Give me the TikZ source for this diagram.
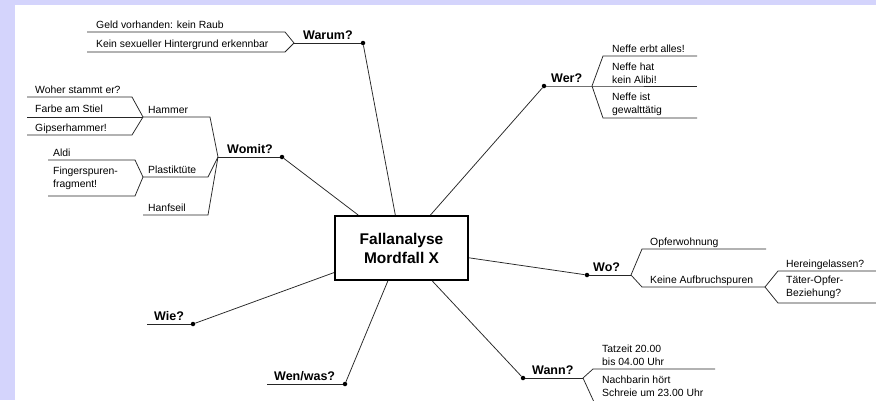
\documentclass[tikz,border=0pt]{standalone}
\usepackage{fontspec}
\setmainfont{Liberation Sans}
\definecolor{rahmen}{RGB}{212,212,252}

\tikzset{
  ast/.style={line width=0.75pt, color=black!85},
  punkt/.style={circle, fill=black, inner sep=0pt, minimum size=4.5pt},
  frage/.style={font=\fontsize{12.5}{15}\selectfont\bfseries, inner sep=0pt, anchor=base west},
  notiz/.style={font=\fontsize{10.4}{13}\selectfont, inner sep=0pt, align=left, anchor=base west},
  notiz2/.style={notiz, anchor=west},
}

\begin{document}
\begin{tikzpicture}[x=1pt,y=-1pt]
	\useasboundingbox (0,0) rectangle (876,400);
	\fill[rahmen] (0,0) rectangle (876,400);
	\fill[white] (15,5) rectangle (876,400);
	\node[draw, line width=2pt, minimum width=133pt, minimum height=64pt, align=center,
	  font=\fontsize{15.5}{19}\selectfont\bfseries] (fall) at (401.5,248) {Fallanalyse\\Mordfall X};
	% Warum?
	\node[punkt] (warum) at (363,43) {};
	\coordinate (warumJ) at (294,43);
	\draw[ast] (warum) -- (fall);
	\draw[ast] (warumJ) -- (warum);
	\node[frage] (warumL) at (303,39) {Warum?};
	\draw[ast] (87,32) -- (285,32) -- (warumJ) -- (285,52) -- (87,52);
	\node[notiz] (geld) at (96,28.5) {Geld vorhanden: kein Raub};
	\node[notiz] (motiv) at (96,47.5) {Kein sexueller Hintergrund erkennbar};
	% Wer?
	\node[punkt] (wer) at (544,86) {};
	\coordinate (werJ) at (592,86);
	\draw[ast] (wer) -- (fall);
	\draw[ast] (wer) -- (werJ) -- (697,86);
	\node[frage] (werL) at (551,82) {Wer?};
	\draw[ast] (697,56) -- (603,56) -- (werJ) -- (603,118) -- (697,118);
	\node[notiz] (erbt) at (612,52) {Neffe erbt alles!};
	\node[notiz2] (alibi) at (612,73) {Neffe hat\\kein Alibi!};
	\node[notiz2] (gewalt) at (612,104) {Neffe ist\\gewalttätig};
	% Womit?
	\node[punkt] (womit) at (282,157) {};
	\coordinate (womitJ) at (218,157);
	\draw[ast] (womit) -- (fall);
	\draw[ast] (womitJ) -- (womit);
	\node[frage] (womitL) at (227,153) {Womit?};
	\coordinate (hammerJ) at (143,117);
	\coordinate (tueteJ) at (143,177);
	\draw[ast] (hammerJ) -- (210,117) -- (womitJ);
	\draw[ast] (tueteJ) -- (208,177) -- (womitJ);
	\draw[ast] (143,215) -- (208,215) -- (womitJ);
	\node[notiz] (hammer) at (148,113) {Hammer};
	\node[notiz] (tuete) at (148,173) {Plastiktüte};
	\node[notiz] (seil) at (148,211.5) {Hanfseil};
	% Hammer
	\draw[ast] (27,97) -- (132,97) -- (hammerJ) -- (132,135) -- (27,135);
	\draw[ast] (27,117) -- (hammerJ);
	\node[notiz] (woher) at (35,93.5) {Woher stammt er?};
	\node[notiz] (farbe) at (35,112.5) {Farbe am Stiel};
	\node[notiz] (gips) at (35,131.5) {Gipserhammer!};
	% Plastiktuete
	\draw[ast] (48,160) -- (135,160) -- (tueteJ) -- (135,196) -- (48,196);
	\node[notiz] (aldi) at (53,156) {Aldi};
	\node[notiz2] (finger) at (53,178) {Fingerspuren-\\fragment!};
	% Wie?
	\node[punkt] (wie) at (193,324) {};
	\coordinate (wieE) at (147,324);
	\draw[ast] (wie) -- (fall);
	\draw[ast] (wieE) -- (wie);
	\node[frage] (wieL) at (154,320) {Wie?};
	% Wen/was?
	\node[punkt] (wen) at (345,384) {};
	\coordinate (wenE) at (267,384);
	\draw[ast] (wen) -- (fall);
	\draw[ast] (wenE) -- (wen);
	\node[frage] (wenL) at (274,380.5) {Wen/was?};
	% Wo?
	\node[punkt] (wo) at (587,275) {};
	\coordinate (woJ) at (631,275);
	\draw[ast] (wo) -- (fall);
	\draw[ast] (wo) -- (woJ);
	\node[frage] (woL) at (593,271) {Wo?};
	\coordinate (aufJ) at (765,287);
	\draw[ast] (766,249) -- (642,249) -- (woJ) -- (642,287) -- (aufJ);
	\node[notiz] (opfer) at (650,245.5) {Opferwohnung};
	\node[notiz] (spuren) at (650,283) {Keine Aufbruchspuren};
	\draw[ast] (876,271) -- (778,271) -- (aufJ) -- (778,303) -- (876,303);
	\node[notiz] (herein) at (786,267.5) {Hereingelassen?};
	\node[notiz2] (bez) at (786,287.5) {Täter-Opfer-\\Beziehung?};
	% Wann?
	\node[punkt] (wann) at (523,378) {};
	\coordinate (wannJ) at (583,378);
	\draw[ast] (wann) -- (fall);
	\draw[ast] (wann) -- (wannJ);
	\node[frage] (wannL) at (532,374) {Wann?};
	\draw[ast] (715,369) -- (593,369) -- (wannJ) -- (594,402);
	\node[notiz2] (tatzeit) at (602,355) {Tatzeit 20.00\\bis 04.00 Uhr};
	\node[notiz2] (schreie) at (602,386.5) {Nachbarin hört\\Schreie um 23.00 Uhr};
\end{tikzpicture}
\end{document}
